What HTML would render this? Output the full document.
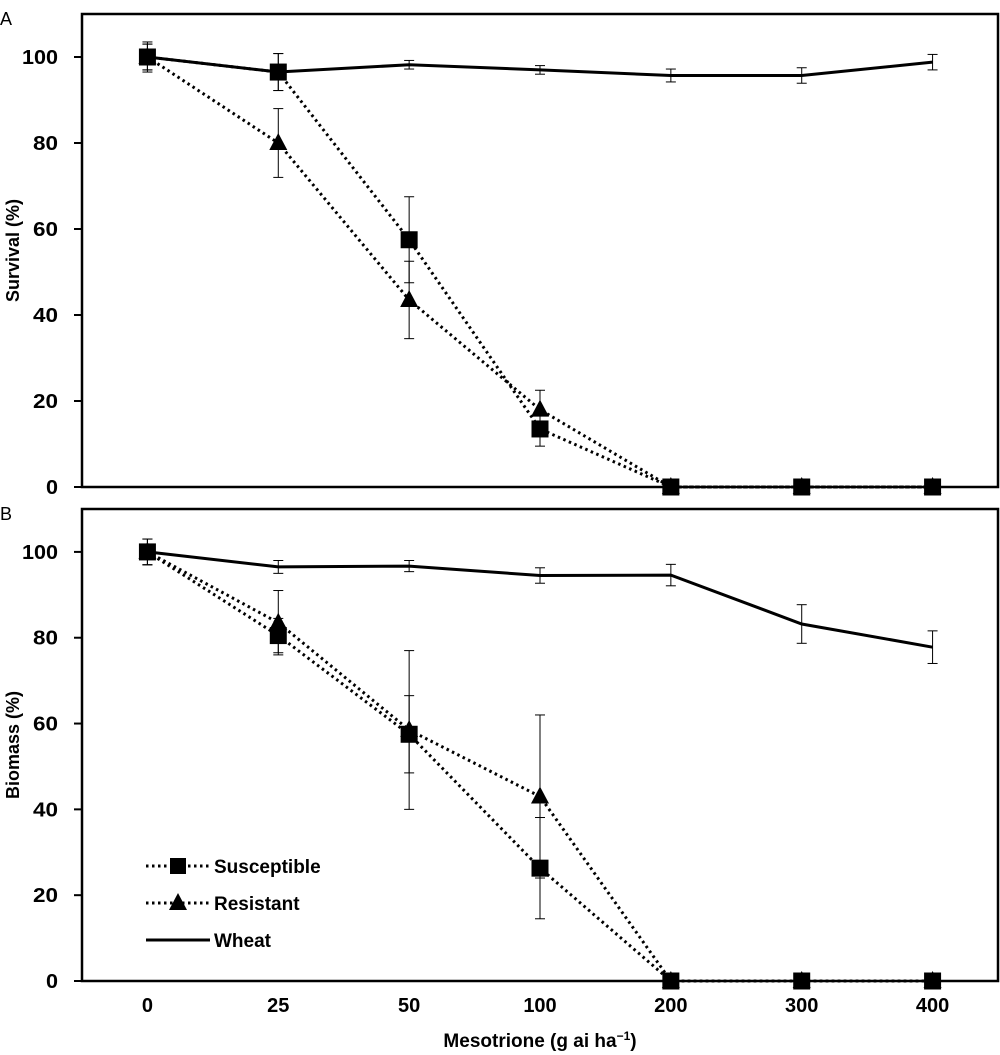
<!DOCTYPE html>
<html><head><meta charset="utf-8"><style>
html,body{margin:0;padding:0;background:#fff}
svg{display:block;font-family:"Liberation Sans",sans-serif}
</style></head><body>
<svg id="chart" width="1000" height="1055"></svg>
<script>
const categories=["0","25","50","100","200","300","400"];
const yTicks=[0,20,40,60,80,100];
const aWheat=[100,96.5,98.2,97,95.7,95.7,98.8];
const aWheatErr=[3.5,4.3,1,1,1.5,1.8,1.8];
const aSusc=[100,96.5,57.5,13.5,0,0,0];
const aSuscErr=[3,4.3,10,4,0,0,0];
const aRes=[100,80,43.5,18,0,0,0];
const aResErr=[3,8,9,4.5,0,0,0];
const bWheat=[100,96.5,96.7,94.5,94.6,83.2,77.8];
const bWheatErr=[3,1.5,1.3,1.8,2.5,4.5,3.8];
const bSusc=[100,80.5,57.5,26.3,0,0,0];
const bSuscErr=[3,4,9,11.8,0,0,0];
const bRes=[100,83.5,58.5,43,0,0,0];
const bResErr=[3,7.5,18.5,19,0,0,0];

const NS="http://www.w3.org/2000/svg";
const svg=document.getElementById('chart');
function mk(tag,attrs,parent){const e=document.createElementNS(NS,tag);for(const k in attrs)e.setAttribute(k,attrs[k]);(parent||svg).appendChild(e);return e;}
const L=82,R=998,step=(R-L)/categories.length;
function xS(i){return L+step*(i+0.5);}

function panel(letter,top,y0,ytitle,wheat,we,susc,se,res,re){
  const g=mk('g',{});
  
  
  const y100=y0-(y0-top)/1.1;
  const yS=v=>y0-(v/100)*(y0-y100);
  const frame=mk('rect',{x:L,y:top,width:R-L,height:y0-top,fill:'none',stroke:'#000','stroke-width':2.5},g);
  
  
  const lt=mk('text',{x:0,y:top+11,'font-size':18,fill:'#000'},g);lt.textContent=letter;
  
  
  yTicks.forEach(t=>{
    mk('line',{x1:L-8,x2:L,y1:yS(t),y2:yS(t),stroke:'#000','stroke-width':2},g);
    const tx=mk('text',{x:L-24,y:yS(t)+7,'font-size':20,'font-weight':'bold','text-anchor':'end','textLength':t>=100?36:(t>0?25:12),'lengthAdjust':'spacingAndGlyphs'},g);tx.textContent=t;
    
    
  });
  const yt=mk('text',{transform:`translate(19,${(top+y0)/2}) rotate(-90)`,'font-size':18,'font-weight':'bold','text-anchor':'middle'},g);yt.textContent=ytitle;
  
  
  function series(vals,errs,dash,marker,name){
    const pts=vals.map((v,i)=>xS(i)+','+yS(v)).join(' ');
    const pl=mk('polyline',{points:pts,fill:'none',stroke:'#000','stroke-width':3,'stroke-dasharray':dash?'2.5 3.5':'none'},g);
    
    
    vals.forEach((v,i)=>{
      if(errs[i]>0){
        const x=xS(i),a=yS(v+errs[i]),b=yS(v-errs[i]);
        mk('line',{x1:x,x2:x,y1:a,y2:b,stroke:'#000','stroke-width':1},g);
        mk('line',{x1:x-5,x2:x+5,y1:a,y2:a,stroke:'#000','stroke-width':1},g);
        mk('line',{x1:x-5,x2:x+5,y1:b,y2:b,stroke:'#000','stroke-width':1},g);
      }
      let m;
      if(marker==='sq')m=mk('rect',{x:xS(i)-8.5,y:yS(v)-8.5,width:17,height:17,fill:'#000'},g);
      else if(marker==='tri')m=mk('polygon',{points:`${xS(i)},${yS(v)-10} ${xS(i)-9},${yS(v)+7} ${xS(i)+9},${yS(v)+7}`,fill:'#000'},g);
      if(m){}
    });
  }
  series(wheat,we,false,null,'wheat');
  series(res,re,true,'tri','resistant');
  series(susc,se,true,'sq','susceptible');
}
panel('A',14,487,'Survival (%)',aWheat,aWheatErr,aSusc,aSuscErr,aRes,aResErr);
panel('B',509,981,'Biomass (%)',bWheat,bWheatErr,bSusc,bSuscErr,bRes,bResErr);

categories.forEach((c,i)=>{
  const t=mk('text',{x:xS(i),y:1012,'font-size':20,'font-weight':'bold','text-anchor':'middle'});t.textContent=c;
  
  
});
const xt=mk('text',{x:540,y:1047,'font-size':19,'font-weight':'bold','text-anchor':'middle'});
xt.innerHTML='Mesotrione (g ai ha<tspan dy="-7" font-size="12">−1</tspan><tspan dy="7">)</tspan>';



const lg=mk('g',{});


const legendNames=["Susceptible","Resistant","Wheat"];
const legendY=[866,903,940];
legendNames.forEach((n,i)=>{
  const y=legendY[i];
  mk('line',{x1:146,x2:210,y1:y,y2:y,stroke:'#000','stroke-width':3,'stroke-dasharray':i<2?'2.5 3.5':'none'},lg);
  if(i===0)mk('rect',{x:170,y:y-8,width:16,height:16,fill:'#000'},lg);
  if(i===1)mk('polygon',{points:`178,${y-10} 169,${y+7} 187,${y+7}`,fill:'#000'},lg);
  const t=mk('text',{x:214,y:y+7,'font-size':19,'font-weight':'bold'},lg);t.textContent=n;
  
  
});
</script>
</body></html>
